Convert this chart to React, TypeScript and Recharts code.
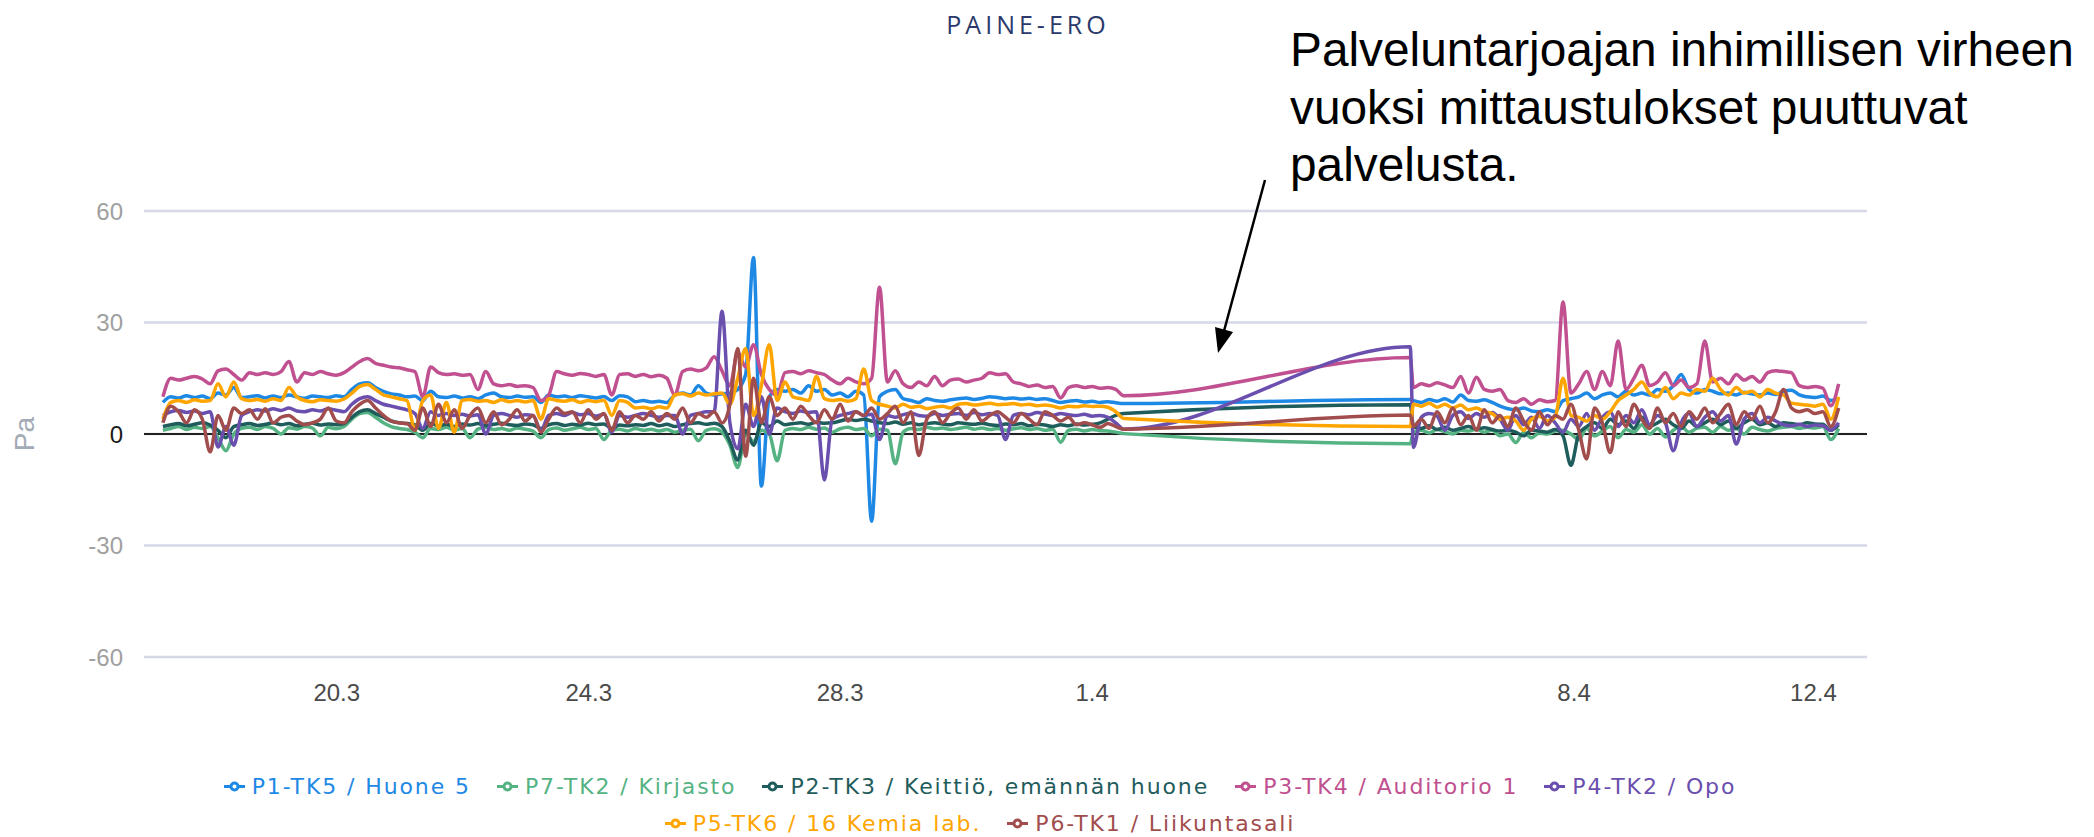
import React from 'react';
import { LineChart, Line, XAxis, YAxis, CartesianGrid, ReferenceLine, Legend } from 'recharts';

// ---- series meta ----
const seriesKeys = ['p1', 'p7', 'p2', 'p3', 'p4', 'p5', 'p6'];
const seriesNames = [
  'P1-TK5 / Huone 5',
  'P7-TK2 / Kirjasto',
  'P2-TK3 / Keittiö, emännän huone',
  'P3-TK4 / Auditorio 1',
  'P4-TK2 / Opo',
  'P5-TK6 / 16 Kemia lab.',
  'P6-TK1 / Liikuntasali',
];
const seriesColors = ['#1e88e5', '#55b383', '#1f5c5c', '#c0508f', '#6a4fae', '#ffa500', '#a24d4d'];

// ---- axis ticks ----
const xTickValues = [3.06, 7.06, 11.05, 15.05, 22.7, 26.5];
const xTickLabels = ['20.3', '24.3', '28.3', '1.4', '8.4', '12.4'];
const yTicks = [-60, -30, 0, 30, 60];

// ---- time of samples (day units along the axis) ----
const seg1Start = 0.3;
const seg1Step = 0.125;
const gapEndT = 20.1;
const seg2Start = 20.15;
const seg2Step = 0.125;

// ---- segment 1 values (before the missing period) ----
const p1Seg1 = [8.5, 10, 9.7, 10.3, 9.8, 10.2, 9.5, 11, 10.5, 12.5,
  9.8, 10, 10.3, 9.7, 10.2, 9.8, 10.5, 10, 9.6, 10.2,
  10, 9.8, 10.3, 10, 12, 13.5, 13.8, 12.5, 11.5, 10.8,
  10.5, 10, 10.2, 9, 11.5, 10, 9.8, 10.2, 9.7, 10,
  9.5, 10.5, 11, 10, 9.8, 10.2, 9.9, 10, 8.5, 10.5,
  10, 10.2, 9.8, 10.3, 10, 9.7, 10.1, 9, 10.3, 10,
  8.7, 9, 8.6, 8.8, 8.5, 10.5, 11, 10.5, 13, 11,
  10.5, 10.8, 11, 12, 16, 47.5, -14, 10, 12, 11.5,
  12, 11, 13, 11.5, 12, 10.5, 11, 10, 11.5, 10.5,
  -23.5, 10, 11.5, 12, 9.5, 9, 8.5, 9.5, 9, 8.8,
  9.2, 9.5, 9.7, 9.3, 9.6, 10, 9.8, 9.5, 9.7, 9.4,
  9.6, 9.3, 9.5, 9, 8.5, 8.8, 9, 8.6, 8.8, 8.5,
  8.7, 8.4, 8.2];
const p7Seg1 = [1, 1.5, 2, 1.2, 1.8, 1.5, 2, -1, -4.5, 0,
  1.5, 1.8, 1.2, 2, 1.5, 0, 1.7, 1.3, 2, 1.6,
  -0.5, 1.8, 1.4, 2, 4, 5.5, 5.8, 4.5, 3, 2,
  1.5, 1.2, 0.5, -1, 1.5, 1.2, 1.8, 1, 1.5, -1,
  1.3, 1.8, 1.2, 1.5, 1, 1.6, 1.3, 0.8, -1, 1.2,
  1.6, 1, 1.4, 1.8, 1.2, 1.5, -1.5, 1, 1.3, 0.8,
  1.5, 1, 1.3, 0.8, 1.2, 0.5, 1, 1.3, -1.8, 1,
  1.4, 0.5, -3, -9, 0, -2, 1, 0, -7.2, 1,
  1.5, 1.2, 1.8, 1.3, 1.6, 0.5, 1.4, 1.8, 1.2, 1.5,
  -0.5, 1.3, 1, -8, 0.5, 1.5, 1.2, 1.8, 1.4, 1.6,
  1.2, 1.5, 1.8, 1.3, 1.6, 1.2, 1.5, 1, 1.4, 1.7,
  1.2, 1.5, 1, 1.3, -2.2, 1, 1.3, 0.8, 1.2, 0.9,
  0.8, 0.5, 0.1];
const p2Seg1 = [2, 2.5, 2.8, 2.2, 2.6, 3, 2.4, 1, -1, 2,
  2.5, 2.8, 2.3, 2.6, 3, 2.5, 2.8, 2.2, 2.6, 2.9,
  2.4, 2.7, 2.5, 2.8, 4.5, 6, 6.5, 5.5, 4.5, 3.5,
  3, 2.8, 2.5, 1, 2.8, 2.2, 2.6, 2, 2.7, 2.4,
  2.8, 2.2, 2.6, 2.9, 2.5, 2.3, 2.7, 2.5, 1.5, 2.5,
  2.8, 2.3, 2.6, 2.4, 2.9, 2.5, 2.7, 1.5, 2.4, 2.2,
  2.5, 2.3, 2.8, 2.2, 2.6, 2, 2.5, 2.8, 3, 2.6,
  2.9, 2, -2, -7, 1, -3, 3, 2, 3.5, 2.5,
  2.8, 3, 2.6, 3.2, 2.9, 3, 3.5, 4, 3.6, 4,
  3.5, 3, 2.8, 3.2, 2.6, 3, 2.5, 2.8, 3, 2.7,
  2.5, 3, 2.8, 2.6, 2.9, 2.5, 2.3, 2.7, 2.5, 2.8,
  2.2, 2.6, 2.4, 2, 2.5, 2.2, 2.7, 2.4, 2.6, 3,
  4, 5, 5.5];
const p3Seg1 = [10, 15, 14.5, 15, 15.5, 14.8, 13.5, 17, 17.5, 16,
  14.5, 16.5, 16, 16.5, 16, 16.8, 19.5, 14, 16.5, 16,
  16.8, 16.2, 15.8, 16.5, 18, 19.5, 20.3, 19, 18.5, 18,
  17.8, 17.3, 16.8, 10, 18, 16.5, 16, 16.2, 15.8, 16,
  12, 16.8, 13.5, 13, 13.3, 12.8, 13, 12.5, 9, 10.5,
  16.8, 16.2, 15.8, 16.3, 16, 15.5, 16, 10.5, 16, 16.2,
  15.5, 16, 15.4, 15.8, 15, 10.4, 16.8, 17.5, 17, 17.8,
  20.8, 17, 13, 22, 18, 24, 16, 12, 10.4, 16.5,
  16.8, 16.2, 17, 16.5, 16, 14.5, 13.5, 15, 14, 13.5,
  15, 39.5, 14, 17, 13.5, 12.5, 14, 13, 15.5, 13,
  14.5, 14.8, 14, 14.5, 15, 16.5, 16, 16.2, 14, 13.5,
  12.8, 13.2, 12.5, 12.8, 9.7, 12.5, 13, 12.5, 12.8, 12.3,
  12.5, 12, 10.3];
const p4Seg1 = [5, 6, 6.3, 5.8, 6.2, 5.5, 6, -3.5, 2, -3,
  5, 6, 6.5, 6.2, 6.8, 6.3, 7, 6.2, 6, 6.5,
  6.2, 6.8, 6.4, 6, 8, 9.5, 10, 9, 8, 7.5,
  7, 6.5, 5.5, 1.5, 6, 5, 5.5, 5, 5.3, 4.8,
  5.2, 0, 5, 5.5, 5, 4.5, 5.2, 5, 1, 5,
  5.5, 5, 5.8, 5.2, 5.5, 4.8, 5.3, 0.5, 5, 4.5,
  5, 5.5, 5, 4.5, 5, 5, 0, 5, 5.5, 6,
  6, 33, 3, -4, 8, 2, 10, 0, 7, 6,
  5.5, 6.2, 5.8, 6, -12.4, 4, 5, 5.5, 6, 5,
  5.3, -1.5, 5, 4.5, 5.2, 5.6, 5, 4.8, 5.5, 5,
  5.3, 5.5, 5, 5.8, 5.2, 5.5, 5, -1.5, 5, 5.5,
  5.2, 5.8, 5.4, 5, 5.5, 5.2, 5, 5.3, 4.8, 5,
  4.5, 3, 1.3];
const p5Seg1 = [4, 8.5, 9, 8.5, 9.2, 8.8, 9, 13.5, 10, 14,
  9.5, 9, 9.3, 8.8, 9.5, 9, 12.5, 10, 9, 8.7,
  9.2, 9, 8.8, 9.4, 11, 12.8, 13.3, 12, 10.5, 10,
  9.5, 9, 1, 9, 10.5, 1.5, 8.5, 0.5, 9, 9.3,
  8.8, 9, 8.5, 9.2, 8.7, 9, 8.6, 9, 4, 9.5,
  9, 8.8, 9.2, 8.5, 9, 8.7, 9.1, 5, 9, 8.5,
  7, 7.2, 6.8, 7.3, 7, 10.5, 10.8, 10.2, 11, 10.5,
  10.8, 11, 8, 15, 23, 5, 13, 24, 9, 14,
  10, 9.5, 9, 15.5, 9.5, 9, 9.3, 8.8, 9.5, 17.5,
  9, 8, 7.5, 7, 8, 7.2, 7.5, 6.8, 7.2, 7.5,
  7, 8, 8.2, 7.8, 8, 8.3, 7.9, 8, 8.2, 7.8,
  8, 7.6, 7.8, 7.5, 7, 7.5, 7.3, 7.6, 7.4, 7.5,
  7.2, 6, 4.2];
const p6Seg1 = [3, 7.5, 6, 3, 6.5, 4, -4.8, 5, 1, 7,
  5.5, 6.5, 4, 6.8, 3, 4.5, 5, 3.5, 2.5, 3,
  4, 7, 3.5, 3, 6, 8, 9, 7, 5, 3.5,
  3, 2.8, 1, 7, 2, 8, 3, 6.5, 1.5, 5,
  7, 3, 6, 2.5, 4, 6.5, 3.5, 5, 0.5, 4,
  7, 5.5, 6, 3, 6.5, 4, 5.5, 1, 6, 3,
  5, 4, 6, 3.5, 5.5, 4, 7, 3, 5.5, 4.5,
  6, 3, 8, 23, -6, 15, 3, 10, 5, 7,
  4, 7.5, 5, 3, 6.5, 4, 8, 3.5, 6, 5,
  7, 4, 5.5, 7.5, 3, 6, -5.8, 4, 6, 3,
  5.5, 7, 4, 6.5, 3.5, 5, 6, 4.5, 3, 5.5,
  4, 2.5, 6, 5, 3.5, 4.5, 2.5, 3, 2.5, 1.8,
  2.8, 2, 1.3];

// ---- last stored values at the end of the missing period ----
const gapEndValues = [9.3, -2.6, 7.9, 20.6, 23.5, 2.0, 5.1];

// ---- segment 2 values (after the missing period) ----
const p1Seg2 = [9, 8.5, 9.3, 8.8, 9.5, 8.6, 10.5, 9, 8.8, 9.2, 8.5,
  7.5, 6.8, 6.5, 7, 6.2, 6, 6.5, 6,
  9,
  9.5, 10, 11, 9.5, 10.5, 11, 10, 11.5, 10.5, 11,
  10.5, 12, 11.5, 13, 16, 12, 11,
  12, 11.5, 10.8, 11, 10.5, 11.2, 10.8, 10.5, 11, 10.6,
  11.5, 11.8, 10.5, 10, 9.8, 10.2, 9, 9.5];
const p7Seg2 = [0.5, 1, 0.3, 1.2, 0.6, 0, 1, 0.8, 1.3, 0.5, 1,
  -0.5, 0, -2.3, 0.5, -1, 0.3, 0, 0.8,
  1, 0, -1.5, 1.5, -0.5, 0.8, 2, -1, 1.2, 0.5, 2.5, 0, 1.5, -0.8, 1, 2, 0.5, 1.5,
  1.8, 0.5, 2, 1, 1.5, 0, 1.8, 1.2, 0.8, 1.5,
  1.8, 2, 1.5, 1.8, 1.6, 2, -1.5, 1.5];
const p2Seg2 = [2, 1.5, 2.2, 1.2, 1.8, 1, 1.5, 2, 1.3, 1.7, 1.2,
  0.8, 1, 0.5, -0.5, 1, 0.8, 0.5, 1.2,
  -0.5, -8.4, 0,
  2, 3, 1.5, 4, 2.5, 3.5, 1.5, 4.5, 2, 3, 4, 2.5, 1.5, 3.5, 2,
  3, 4, 2.5, 3.5, 1.5, 3, 4, 2.5, 3, 2,
  3, 2.8, 2.5, 3, 2.7, 2.6, 1, 2.5];
const p3Seg2 = [12.5, 13.5, 13, 13.8, 13.2, 12.5, 15.5, 11, 15.3, 12,
  11.5, 12, 9, 8.5, 9.5, 8, 9.2, 8.7, 9, 35.5,
  11, 13.5, 16.8, 12, 16.8, 13, 25, 12, 15, 18.5,
  13, 14, 16.5, 13, 14.5, 12.5, 13.5, 25, 14, 15,
  13.5, 16, 14.5, 15.5, 14, 16.5, 17, 16.8, 16.5, 13,
  12.5, 12.8, 12.3, 7.6, 13.5];
const p4Seg2 = [-3.6, 4.5, 5.5, 4.8, 1, 5, 6, 4.2, 5.5, 4.5, 5.8,
  4, 1, 5, 2.5, 4.5, 1.5, 5, 3,
  0.5, 4, 2, 5.5, 1, 4.5, 6, 2, 5, 3, 6.5, 2.5, 5, 3,
  -4.5, 3, 5.5, 2, 4.5, 6, 3.5, 5,
  -2.7, 4, 5.5, 3, 4.5, 3.5,
  2.5, 2.2, 2.6, 2, 2.4, 2.2, 1, 3];
const p5Seg2 = [8, 7.5, 8.3, 7.2, 8, 7, 7.8,
  6.5, 7, 6, 5.5,
  4, 4.5, 3.5, 1, 4, 4.8, 3.5, 4.5,
  15,
  5, 4.5, 3.5, 5, 4, 6,
  9, 10.5, 12, 14, 11, 10, 12.5, 9.5, 11, 10.5, 12,
  11.5, 15, 12, 10.5, 12.5, 11,
  11.5, 10, 12, 11, 10.5,
  8.3, 8, 7.8, 7.5, 8, 4, 10];
const p6Seg2 = [2, 4, 1.5, 6, 3, 7, 2.5, 5, 1, 6.5, 3,
  5, 2, 7, 3.5, 1, 6, 2.5, 5,
  4, 8, 1, -6.7, 7, 3, -5,
  6, 2, 8, 4, 1.5, 7, 3, 5.5, 2, 6, 4,
  7, 3, 5.5, 8, 2.5, 6, 4, 7.5, 3, 6,
  12, 7, 6, 6.5, 5.5, 6, 2, 7];

const seg1Values = [p1Seg1, p7Seg1, p2Seg1, p3Seg1, p4Seg1, p5Seg1, p6Seg1];
const seg2Values = [p1Seg2, p7Seg2, p2Seg2, p3Seg2, p4Seg2, p5Seg2, p6Seg2];

type Row = { t: number; [k: string]: number };

function buildData(): Row[] {
  const rows: Row[] = [];
  for (let i = 0; i < p1Seg1.length; i++) {
    const r: Row = { t: seg1Start + i * seg1Step };
    seriesKeys.forEach((k, s) => { r[k] = seg1Values[s][i]; });
    rows.push(r);
  }
  const g: Row = { t: gapEndT };
  seriesKeys.forEach((k, s) => { g[k] = gapEndValues[s]; });
  rows.push(g);
  for (let j = 0; j < p1Seg2.length; j++) {
    const r: Row = { t: seg2Start + j * seg2Step };
    seriesKeys.forEach((k, s) => { r[k] = seg2Values[s][j]; });
    rows.push(r);
  }
  return rows;
}

const data = buildData();

const YTick = (props: any) => {
  const { x, y, payload } = props;
  return (
    <text x={x} y={y} dy="0.355em" textAnchor="end" fontSize={24}
      fontFamily="'Liberation Sans', Arial, sans-serif"
      fill={payload.value === 0 ? '#1a1a1a' : '#a0a0a0'}>
      {payload.value}
    </text>
  );
};

const LegendIcon = ({ color }: { color: string }) => (
  <svg width={21} height={21} viewBox="0 0 32 32" style={{ display: 'block' }}>
    <path strokeWidth={4.5} fill="none" stroke={color}
      d="M0,16h10.666666666666666A5.333333333333333,5.333333333333333,0,1,1,21.333333333333332,16H32M21.333333333333332,16A5.333333333333333,5.333333333333333,0,1,1,10.666666666666666,16" />
  </svg>
);

const legendRows = [[0, 1, 2, 3, 4], [5, 6]];

const renderLegend = () => (
  <div style={{ fontFamily: "'DejaVu Sans', 'Noto Sans', sans-serif", fontSize: 22, letterSpacing: 1.9 }}>
    {legendRows.map((row, r) => (
      <div key={r} style={{ display: 'flex', justifyContent: 'center', alignItems: 'center', gap: 26, height: 37 }}>
        {row.map((s) => (
          <span key={seriesKeys[s]} style={{ display: 'inline-flex', alignItems: 'center', color: seriesColors[s], whiteSpace: 'nowrap' }}>
            <LegendIcon color={seriesColors[s]} />
            <span style={{ marginLeft: 7 }}>{seriesNames[s]}</span>
          </span>
        ))}
      </div>
    ))}
  </div>
);

export default function App() {
  return (
    <div style={{ position: 'absolute', left: 0, top: 0, width: 2094, height: 837, background: '#fff' }}>
      <LineChart width={2094} height={837} data={data}
        margin={{ top: 211, right: 227, bottom: 120, left: 0 }}>
        <CartesianGrid vertical={false} stroke="#d5d8e7" strokeWidth={2.5} />
        <XAxis dataKey="t" type="number" domain={[0, 27.35]} ticks={xTickValues}
          tickFormatter={(v: number) => xTickLabels[xTickValues.indexOf(v)] ?? ''}
          axisLine={false} tickLine={false} tickSize={0} tickMargin={27} height={60}
          interval={0}
          tick={{ fill: '#4a4a4a', fontSize: 24, fontFamily: "'Liberation Sans', Arial, sans-serif" }} />
        <YAxis domain={[-60, 60]} ticks={yTicks} width={144} axisLine={false} tickLine={false}
          tickSize={0} tickMargin={21} tick={<YTick />} interval={0}
          label={{ value: 'Pa', angle: -90, position: 'center', dx: -48, fill: '#a3abb6', fontSize: 28, fontFamily: "'Liberation Sans', Arial, sans-serif" }} />
        <ReferenceLine y={0} stroke="#222" strokeWidth={2} />
        {seriesKeys.map((k, s) => (
          <Line key={k} dataKey={k} name={seriesNames[s]} stroke={seriesColors[s]} type="monotone"
            strokeWidth={3.5} dot={false} activeDot={false} isAnimationActive={false} />
        ))}
        <Legend content={renderLegend}
          wrapperStyle={{ position: 'absolute', left: 0, top: 768, width: 1960, height: 0, overflow: 'visible' }} />
      </LineChart>
      <div style={{ position: 'absolute', left: 878, top: 8, width: 300, textAlign: 'center', fontFamily: "'Open Sans', sans-serif", fontSize: 25, lineHeight: '32px', letterSpacing: 4, color: '#2b3a6b' }}>
        PAINE-ERO
      </div>
      <div style={{ position: 'absolute', left: 1290, top: 21, fontFamily: "'Liberation Sans', Arial, sans-serif", fontSize: 47.8, lineHeight: '57.5px', color: '#000', whiteSpace: 'nowrap' }}>
        <div>Palveluntarjoajan inhimillisen virheen</div>
        <div>vuoksi mittaustulokset puuttuvat</div>
        <div>palvelusta.</div>
      </div>
      <svg width={2094} height={837} style={{ position: 'absolute', left: 0, top: 0, pointerEvents: 'none' }}>
        <line x1={1265} y1={180} x2={1224} y2={331} stroke="#000" strokeWidth={2.5} />
        <polygon points="1218,353 1233,332 1215,327" fill="#000" />
      </svg>
    </div>
  );
}
